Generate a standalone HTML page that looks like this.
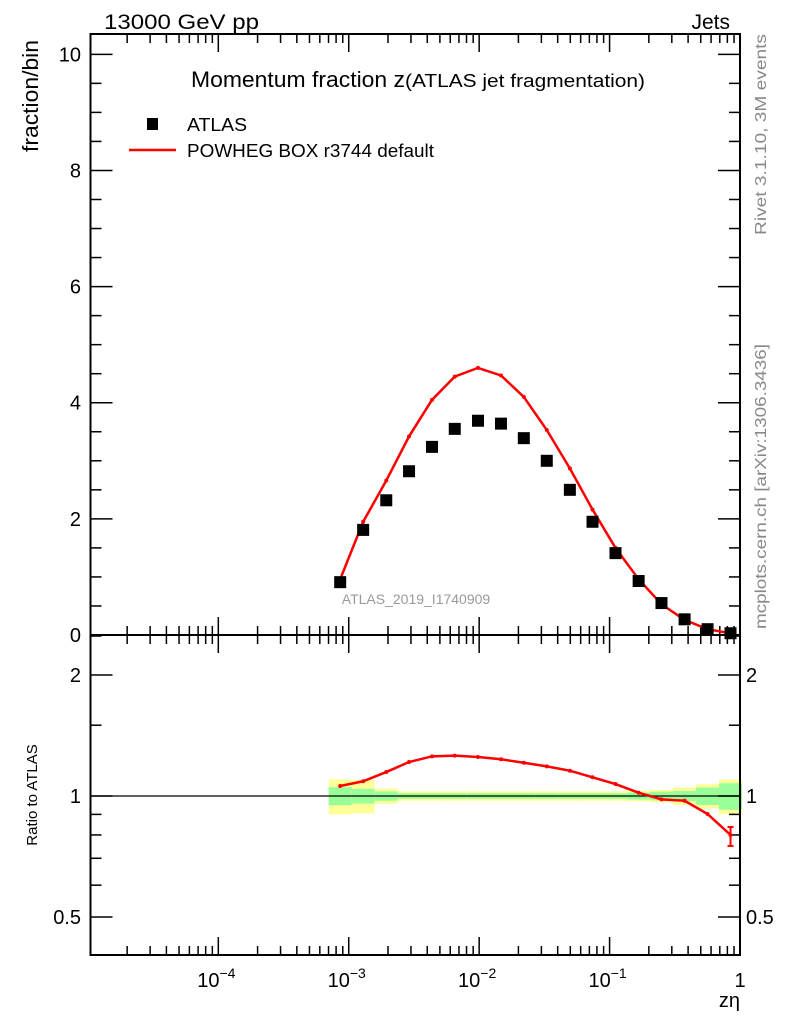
<!DOCTYPE html>
<html><head><meta charset="utf-8"><style>
body{margin:0;background:#fff;}
svg{display:block;font-family:"Liberation Sans",Arial,sans-serif;}
</style></head><body>
<svg id="c" width="786" height="1024" viewBox="0 0 786 1024" xmlns="http://www.w3.org/2000/svg"></svg>
<script>
const zCenters=[8.6e-4,1.29e-3,1.94e-3,2.9e-3,4.35e-3,6.5e-3,9.8e-3,1.47e-2,2.2e-2,3.3e-2,4.96e-2,7.4e-2,0.111,0.167,0.25,0.376,0.564,0.846];
const atlasVals=[0.91,1.81,2.32,2.82,3.24,3.55,3.69,3.64,3.39,3.0,2.5,1.95,1.41,0.93,0.55,0.27,0.10,0.03];
const mcVals=[0.96,1.95,2.66,3.42,4.05,4.45,4.6,4.47,4.1,3.53,2.87,2.16,1.5,0.96,0.53,0.26,0.10,0.03];
const ratioVals=[1.059,1.088,1.147,1.215,1.255,1.26,1.25,1.234,1.21,1.185,1.156,1.113,1.071,1.019,0.981,0.973,0.902,0.80];
const yellowErr=[0.10,0.095,0.044,0.027,0.027,0.027,0.027,0.027,0.027,0.027,0.027,0.027,0.027,0.03,0.036,0.05,0.07,0.10];
const greenErr=[0.052,0.042,0.027,0.016,0.016,0.016,0.016,0.016,0.016,0.016,0.016,0.016,0.016,0.02,0.025,0.029,0.05,0.076];
const mainTicks=[0,2,4,6,8,10];
const ratioTicks=[0.5,1,2];
const xDecades=[-4,-3,-2,-1,0];

const S=document.getElementById('c');const NS='http://www.w3.org/2000/svg';
function mk(t,a,p){const e=document.createElementNS(NS,t);for(const k in a)e.setAttribute(k,a[k]);(p||S).appendChild(e);return e;}
const L=90.5,R=740,T=34,MB=635,RB=955;
const lx0=-4.98,lx1=0;
const X=v=>L+(Math.log10(v)-lx0)/(lx1-lx0)*(R-L);
const Y=v=>MB-(v/10.35)*(MB-T);
const YR=r=>796-402*Math.log10(r);
const step=Math.log10(1.5)/2;

zCenters.forEach((z,i)=>{
  const x0=X(z/Math.pow(10,step)),x1=X(z*Math.pow(10,step));
  let e=mk('rect',{x:x0,y:YR(1+yellowErr[i]),width:x1-x0,height:YR(1-yellowErr[i])-YR(1+yellowErr[i]),fill:'#ffff99'});
  
  e=mk('rect',{x:x0,y:YR(1+greenErr[i]),width:x1-x0,height:YR(1-greenErr[i])-YR(1+greenErr[i]),fill:'#99ff99'});
  
});
let ln=mk('line',{x1:L,x2:R,y1:YR(1),y2:YR(1),stroke:'#000','stroke-width':1.2});


[[T,MB],[MB,RB]].forEach(([a,b],k)=>{
  const f=mk('rect',{x:L,y:a,width:R-L,height:b-a,fill:'none',stroke:'#000','stroke-width':2});
  
  for(let d=-5;d<=0;d++)for(let m=1;m<10;m++){
    const v=m*Math.pow(10,d);const lv=Math.log10(v);if(lv<lx0||lv>lx1+1e-9)continue;
    const x=X(v);const len=m==1?18:9;
    mk('line',{x1:x,x2:x,y1:b,y2:b-len,stroke:'#000','stroke-width':1.5});
    mk('line',{x1:x,x2:x,y1:a,y2:a+len,stroke:'#000','stroke-width':1.5});
  }
});
for(let v=0;v<=10.3;v+=0.5){const y=Y(v);const len=(Math.abs(v%2)<1e-9)?22:11;
  mk('line',{x1:L,x2:L+len,y1:y,y2:y,stroke:'#000','stroke-width':1.5});
  mk('line',{x1:R,x2:R-len,y1:y,y2:y,stroke:'#000','stroke-width':1.5});}
mainTicks.forEach(v=>{const t=mk('text',{x:81,y:Y(v)+7,'text-anchor':'end','font-size':20});t.textContent=v;
  });
[0.4,0.5,0.6,0.7,0.8,0.9,1,1.5,2,2.5].forEach(v=>{const y=YR(v);if(y<MB||y>RB)return;const len=ratioTicks.includes(v)?22:11;
  mk('line',{x1:L,x2:L+len,y1:y,y2:y,stroke:'#000','stroke-width':1.5});
  mk('line',{x1:R,x2:R-len,y1:y,y2:y,stroke:'#000','stroke-width':1.5});});
ratioTicks.forEach(v=>{let t=mk('text',{x:81,y:YR(v)+7,'text-anchor':'end','font-size':20});t.textContent=v;
  
  t=mk('text',{x:746,y:YR(v)+7,'font-size':20});t.textContent=v;
  });
xDecades.forEach(d=>{const x=X(Math.pow(10,d));const t=mk('text',{x:d==0?x:x-2,y:987,'text-anchor':'middle','font-size':20});
  
  if(d==0)t.textContent='1';else{t.textContent='10';const s=mk('tspan',{dy:-9,'font-size':14},t);s.textContent=String(d).replace('-','\u2212');}});

let pts=zCenters.map((z,i)=>X(z)+','+Y(mcVals[i])).join(' ');
let pl=mk('polyline',{points:pts,fill:'none',stroke:'#ff0000','stroke-width':2.5});

zCenters.forEach((z,i)=>{const d=mk('circle',{cx:X(z),cy:Y(mcVals[i]),r:2,fill:'#f00'});
  });
zCenters.forEach((z,i)=>{const r=mk('rect',{x:X(z)-6,y:Y(atlasVals[i])-6,width:12,height:12,fill:'#000'});
  });
pts=zCenters.map((z,i)=>X(z)+','+YR(ratioVals[i])).join(' ');
pl=mk('polyline',{points:pts,fill:'none',stroke:'#ff0000','stroke-width':2.5});

zCenters.forEach((z,i)=>{const d=mk('circle',{cx:X(z),cy:YR(ratioVals[i]),r:2,fill:'#f00'});
  });
{const x=X(zCenters[17]);mk('line',{x1:x,x2:x,y1:YR(ratioVals[17])-8,y2:YR(ratioVals[17])+11,stroke:'#f00','stroke-width':2});
 mk('line',{x1:x-3,x2:x+3,y1:YR(ratioVals[17])-8,y2:YR(ratioVals[17])-8,stroke:'#f00','stroke-width':2});
 mk('line',{x1:x-3,x2:x+3,y1:YR(ratioVals[17])+11,y2:YR(ratioVals[17])+11,stroke:'#f00','stroke-width':2});}

function txt(s,a,name){const t=mk('text',a);t.textContent=s;return t;}
txt('13000 GeV pp',{x:104,y:29,'font-size':21,textLength:155,lengthAdjust:'spacingAndGlyphs'},'energy-label');
txt('Jets',{x:730,y:29,'font-size':21,'text-anchor':'end'},'process-label');
txt('Momentum fraction z',{x:191,y:87,'font-size':22,textLength:214,lengthAdjust:'spacingAndGlyphs'},'plot-title');
txt('(ATLAS jet fragmentation)',{x:405,y:87,'font-size':18,textLength:240,lengthAdjust:'spacingAndGlyphs'},'plot-subtitle');
let r=mk('rect',{x:147,y:118,width:11,height:12,fill:'#000'});
txt('ATLAS',{x:187,y:131,'font-size':18,textLength:60,lengthAdjust:'spacingAndGlyphs'},'legend-atlas');
let l=mk('line',{x1:129,x2:176,y1:150,y2:150,stroke:'#f00','stroke-width':2.5});
txt('POWHEG BOX r3744 default',{x:187,y:157,'font-size':18,textLength:247,lengthAdjust:'spacingAndGlyphs'},'legend-powheg');
txt('fraction/bin',{x:0,y:0,'font-size':22,'text-anchor':'end',transform:'translate(38,40) rotate(-90)',textLength:112,lengthAdjust:'spacingAndGlyphs'},'y-axis-title');
txt('Ratio to ATLAS',{x:0,y:0,'font-size':15,'text-anchor':'middle',transform:'translate(37,795) rotate(-90)'},'ratio-axis-title');
txt('z\u03b7',{x:740,y:1007,'font-size':20,'text-anchor':'end'},'x-axis-title');
txt('ATLAS_2019_I1740909',{x:416,y:604,'font-size':14,'text-anchor':'middle',fill:'#999'},'analysis-id');
txt('Rivet 3.1.10,  3M events',{x:0,y:0,'font-size':16,'text-anchor':'end',fill:'#888',transform:'translate(766,34) rotate(-90)',textLength:201,lengthAdjust:'spacingAndGlyphs'},'rivet-version');
txt('mcplots.cern.ch [arXiv:1306.3436]',{x:0,y:0,'font-size':16,'text-anchor':'end',fill:'#888',transform:'translate(766,344) rotate(-90)',textLength:285,lengthAdjust:'spacingAndGlyphs'},'mcplots-credit');
</script>
</body></html>
